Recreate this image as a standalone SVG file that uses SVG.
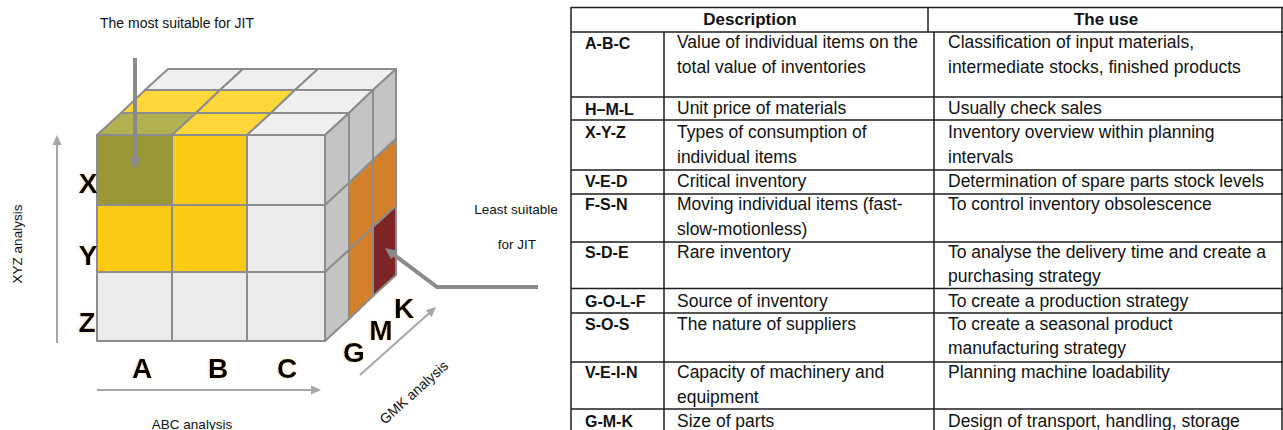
<svg xmlns="http://www.w3.org/2000/svg" width="1283" height="430" viewBox="0 0 1283 430">
<style>
.cell{stroke:#8c8c8c;stroke-width:2;stroke-linejoin:round}
.fg{fill:#ebebeb}.tg{fill:#efefef}.sg{fill:#c4c4c4}
.ol{fill:#9a9836}.olt{fill:#b3b052}.ye{fill:#fcc914}.yet{fill:#fdd63a}
.or{fill:#d4802a}.dr{fill:#7e2626}
.big{font-family:"Liberation Sans",Arial,sans-serif;font-weight:bold;font-size:28px;fill:#000;text-anchor:middle}
.lbl{font-family:"Liberation Sans",Arial,sans-serif;font-size:13.5px;fill:#111}
.t{font-family:"Liberation Sans",Arial,sans-serif;font-size:17.5px;fill:#111}
.c{font-family:"Liberation Sans",Arial,sans-serif;font-size:16px;font-weight:bold;fill:#111}
.h{font-family:"Liberation Sans",Arial,sans-serif;font-size:17px;font-weight:bold;fill:#111;text-anchor:middle}
.grid line{stroke:#1e1e1e;stroke-width:1.5}
.thick{stroke:#8a8a8a;stroke-width:4;fill:none}
.thin{stroke:#a6a6a6;stroke-width:2;fill:none}
</style>
<defs>
<marker id="hk" viewBox="0 -6 12 12" refX="1" refY="0" markerWidth="12" markerHeight="12" markerUnits="userSpaceOnUse" orient="auto">
<path d="M0,-5.5 L12,0 L0,5.5 z" fill="#8a8a8a"/>
</marker>
<marker id="hn" viewBox="0 -5 10 10" refX="1" refY="0" markerWidth="10" markerHeight="10" markerUnits="userSpaceOnUse" orient="auto">
<path d="M0,-4.5 L10,0 L0,4.5 z" fill="#a6a6a6"/>
</marker>
<filter id="glow" x="-30%" y="-30%" width="160%" height="160%">
<feGaussianBlur in="SourceAlpha" stdDeviation="1" result="b"/>
<feOffset in="b" dx="-1" dy="0" result="o"/>
<feFlood flood-color="#e8a040" flood-opacity="0.45"/>
<feComposite in2="o" operator="in" result="g"/>
<feMerge><feMergeNode in="g"/><feMergeNode in="SourceGraphic"/></feMerge>
</filter>
</defs>
<rect width="1283" height="430" fill="#fff"/>

<g id="cube">
<g id="cube-top">
<polygon class="cell olt" points="97,135 172,135 196,113 121,113"/>
<polygon class="cell yet" points="172,135 247,135 271,113 196,113"/>
<polygon class="cell tg" points="247,135 325,135 349,113 271,113"/>
<polygon class="cell yet" points="121,113 196,113 220,90 145,90"/>
<polygon class="cell yet" points="196,113 271,113 295,90 220,90"/>
<polygon class="cell tg" points="271,113 349,113 373,90 295,90"/>
<polygon class="cell tg" points="145,90 220,90 243,69 168,69"/>
<polygon class="cell tg" points="220,90 295,90 318,69 243,69"/>
<polygon class="cell tg" points="295,90 373,90 396,69 318,69"/>
</g>
<g id="cube-side">
<polygon class="cell sg" points="325,135 349,113 349,183 325,205"/>
<polygon class="cell sg" points="325,205 349,183 349,250 325,272"/>
<polygon class="cell sg" points="325,272 349,250 349,319 325,341"/>
<polygon class="cell sg" points="349,113 373,90 373,160 349,183"/>
<polygon class="cell or" points="349,183 373,160 373,227 349,250"/>
<polygon class="cell or" points="349,250 373,227 373,296 349,319"/>
<polygon class="cell sg" points="373,90 396,69 396,139 373,160"/>
<polygon class="cell or" points="373,160 396,139 396,206 373,227"/>
<polygon class="cell dr" points="373,227 396,206 396,275 373,296"/>
</g>
<g id="cube-front">
<rect class="cell ol" x="97" y="135" width="75" height="70"/>
<rect class="cell ye" x="172" y="135" width="75" height="70"/>
<rect class="cell fg" x="247" y="135" width="78" height="70"/>
<rect class="cell ye" x="97" y="205" width="75" height="67"/>
<rect class="cell ye" x="172" y="205" width="75" height="67"/>
<rect class="cell fg" x="247" y="205" width="78" height="67"/>
<rect class="cell fg" x="97" y="272" width="75" height="69"/>
<rect class="cell fg" x="172" y="272" width="75" height="69"/>
<rect class="cell fg" x="247" y="272" width="78" height="69"/>
</g>
</g>

<g id="axis-letters" filter="url(#glow)">
<text class="big" x="88" y="193">X</text>
<text class="big" x="88" y="265">Y</text>
<text class="big" x="87" y="332">Z</text>
<text class="big" x="142" y="378">A</text>
<text class="big" x="218" y="378">B</text>
<text class="big" x="287" y="378">C</text>
<text class="big" x="354" y="362">G</text>
<text class="big" x="381" y="340">M</text>
<text class="big" x="404" y="318">K</text>
</g>

<g id="labels">
<text class="lbl" x="177" y="28" text-anchor="middle" style="font-size:14px">The most suitable for JIT</text>
<text class="lbl" x="516" y="214" text-anchor="middle">Least suitable</text>
<text class="lbl" x="517" y="249" text-anchor="middle">for JIT</text>
<text class="lbl" transform="translate(22,244) rotate(-90)" text-anchor="middle">XYZ analysis</text>
<text class="lbl" x="192" y="429" text-anchor="middle">ABC analysis</text>
<text class="lbl" transform="translate(417,396) rotate(-42)" text-anchor="middle" style="font-size:14px">GMK analysis</text>
</g>

<g id="connectors">
<line class="thick" x1="135" y1="58" x2="135" y2="159" marker-end="url(#hk)"/>
<polyline class="thick" points="538,287 437,287 393.8,254.6" marker-end="url(#hk)"/>
<line class="thin" x1="57" y1="343" x2="57" y2="144" marker-end="url(#hn)"/>
<line class="thin" x1="97" y1="390" x2="312" y2="390" marker-end="url(#hn)"/>
<line class="thin" x1="360" y1="375" x2="429.3" y2="313" marker-end="url(#hn)"/>
</g>

<g id="table">
<g class="grid">
<line x1="571" y1="7.5" x2="1283" y2="7.5"/>
<line x1="571" y1="7" x2="571" y2="430"/>
<line x1="1282" y1="7" x2="1282" y2="430"/>
<line x1="928" y1="7" x2="928" y2="32"/>
<line x1="664" y1="32" x2="664" y2="430"/>
<line x1="934" y1="32" x2="934" y2="430"/>
<line x1="571" y1="32" x2="1283" y2="32"/>
<line x1="571" y1="97" x2="1283" y2="97"/>
<line x1="571" y1="120" x2="1283" y2="120"/>
<line x1="571" y1="170" x2="1283" y2="170"/>
<line x1="571" y1="194" x2="1283" y2="194"/>
<line x1="571" y1="242" x2="1283" y2="242"/>
<line x1="571" y1="288.5" x2="1283" y2="288.5"/>
<line x1="571" y1="313" x2="1283" y2="313"/>
<line x1="571" y1="362" x2="1283" y2="362"/>
<line x1="571" y1="409" x2="1283" y2="409"/>
</g>
<g id="header">
<text class="h" x="750" y="25">Description</text>
<text class="h" x="1106" y="25">The use</text>
</g>
<g id="row-abc">
<text class="c" x="585" y="49">A-B-C</text>
<text class="t" x="677" y="48">Value of individual items on the</text>
<text class="t" x="677" y="73">total value of inventories</text>
<text class="t" x="948" y="48">Classification of input materials,</text>
<text class="t" x="948" y="73">intermediate stocks, finished products</text>
</g>
<g id="row-hml">
<text class="c" x="585" y="115">H–M-L</text>
<text class="t" x="677" y="114">Unit price of materials</text>
<text class="t" x="948" y="114">Usually check sales</text>
</g>
<g id="row-xyz">
<text class="c" x="585" y="138">X-Y-Z</text>
<text class="t" x="677" y="138">Types of consumption of</text>
<text class="t" x="677" y="163">individual items</text>
<text class="t" x="948" y="138">Inventory overview within planning</text>
<text class="t" x="948" y="163">intervals</text>
</g>
<g id="row-ved">
<text class="c" x="585" y="187">V-E-D</text>
<text class="t" x="677" y="187">Critical inventory</text>
<text class="t" x="948" y="187">Determination of spare parts stock levels</text>
</g>
<g id="row-fsn">
<text class="c" x="585" y="210">F-S-N</text>
<text class="t" x="677" y="210">Moving individual items (fast-</text>
<text class="t" x="677" y="235">slow-motionless)</text>
<text class="t" x="948" y="210">To control inventory obsolescence</text>
</g>
<g id="row-sde">
<text class="c" x="585" y="258">S-D-E</text>
<text class="t" x="677" y="258">Rare inventory</text>
<text class="t" x="948" y="258">To analyse the delivery time and create a</text>
<text class="t" x="948" y="282">purchasing strategy</text>
</g>
<g id="row-golf">
<text class="c" x="585" y="307">G-O-L-F</text>
<text class="t" x="677" y="307">Source of inventory</text>
<text class="t" x="948" y="307">To create a production strategy</text>
</g>
<g id="row-sos">
<text class="c" x="585" y="330">S-O-S</text>
<text class="t" x="677" y="330">The nature of suppliers</text>
<text class="t" x="948" y="330">To create a seasonal product</text>
<text class="t" x="948" y="354">manufacturing strategy</text>
</g>
<g id="row-vein">
<text class="c" x="585" y="378">V-E-I-N</text>
<text class="t" x="677" y="378">Capacity of machinery and</text>
<text class="t" x="677" y="403">equipment</text>
<text class="t" x="948" y="378">Planning machine loadability</text>
</g>
<g id="row-gmk">
<text class="c" x="585" y="427">G-M-K</text>
<text class="t" x="677" y="427">Size of parts</text>
<text class="t" x="948" y="427">Design of transport, handling, storage</text>
</g>
</g>
</svg>
